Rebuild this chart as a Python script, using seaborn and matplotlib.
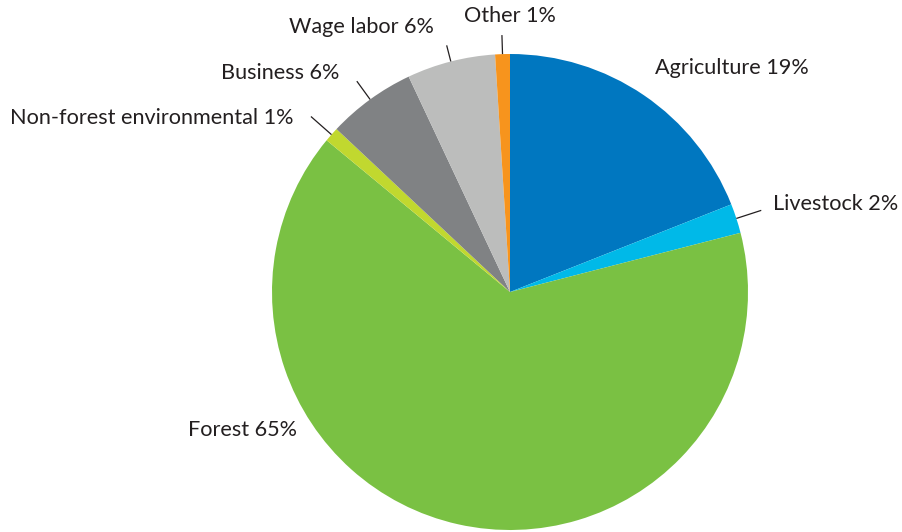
import numpy as np
import matplotlib
matplotlib.use("Agg")
import matplotlib.pyplot as plt
import seaborn as sns

# Income sources (share of total, %)
categories = ["Agriculture", "Livestock", "Forest", "Non-forest environmental",
              "Business", "Wage labor", "Other"]
shares = [19, 2, 65, 1, 6, 6, 1]
colors = ["#0077C0", "#00B9E8", "#7AC143", "#C1D82F", "#808284", "#BCBDBC", "#F7941D"]

# Label anchor positions (in pie-radius units) and alignment
label_xy = [(0.609, 0.941), (1.105, 0.370), (-0.895, -0.580), (-0.908, 0.731),
            (-0.718, 0.920), (-0.319, 1.113), (0.0, 1.160)]
label_ha = ["left", "left", "right", "right", "right", "right", "center"]
# Outer radius of leader lines (None = no line)
leader_r = [None, 1.11, None, 1.115, 1.095, 1.07, 1.08]

sns.set_theme(style="white")
plt.rcParams["font.family"] = ["Lato", "DejaVu Sans"]

fig = plt.figure(figsize=(9.02, 5.32), dpi=100)
ax = fig.add_axes([0, 0, 1, 1])

wedges, _ = ax.pie(shares, colors=sns.color_palette(colors), startangle=90,
                   counterclock=False, radius=1.0, center=(0, 0),
                   wedgeprops=dict(linewidth=0))

ax.set_xlim(-510 / 238, 392 / 238)
ax.set_ylim(-240 / 238, 292 / 238)
ax.set_aspect("equal")
ax.axis("off")

text_color = "#231F20"
for w, name, val, (tx, ty), ha, lr in zip(wedges, categories, shares,
                                          label_xy, label_ha, leader_r):
    mid = np.deg2rad((w.theta1 + w.theta2) / 2)
    if lr is not None:
        ax.plot([np.cos(mid) * 1.0, np.cos(mid) * lr],
                [np.sin(mid) * 1.0, np.sin(mid) * lr],
                color=text_color, lw=0.9, solid_capstyle="butt")
    ax.text(tx, ty, f"{name} {val}%", ha=ha, va="center",
            fontsize=15.6, color=text_color)

fig.savefig("out.png", dpi=100)
